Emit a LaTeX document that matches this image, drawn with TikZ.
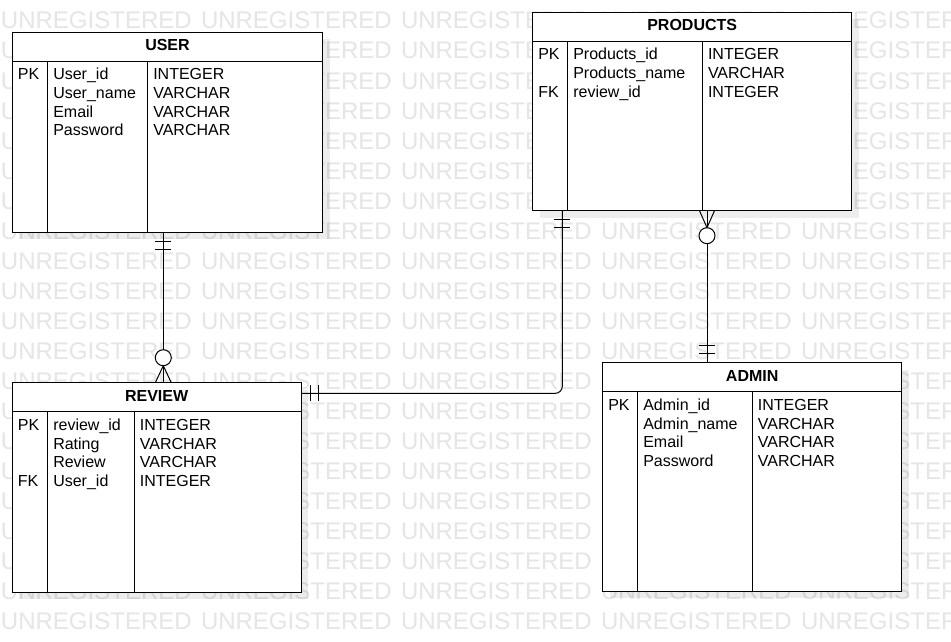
\documentclass[tikz,border=0pt]{standalone}
\usepackage{fontspec}
\setmainfont{Liberation Sans}
\usetikzlibrary{calc}

% entity frame: name, left, top, width, height, first divider, second divider, title
\newcommand\erentity[8]{%
  \fill[shadowbox] (#2+7,#3+7) rectangle (#2+#4+7,#3+#5+7);
  \node[entbox, minimum width=#4pt, minimum height=#5pt] (#1) at (#2,#3) {};
  \draw[erline] ([yshift=-29pt]#1.north west) -- ([yshift=-29pt]#1.north east);
  \draw[erline] ([shift={(#6,29)}]#1.north west) -- ([xshift=#6pt]#1.south west);
  \draw[erline] ([shift={(#7,29)}]#1.north west) -- ([xshift=#7pt]#1.south west);
  \node[ttl] (#1-title) at (#2+#4/2,#3+18.3) {#8};
}
% one column of attribute text: prefix, x, first baseline, entries
\newcommand\ercol[4]{%
  \foreach \t [count=\i from 0] in {#4}
    \node[cell] (#1-\i) at (#2,#3+18.6*\i) {\t};
}

\begin{document}
\begin{tikzpicture}[x=1pt,y=-1pt,
  erline/.style={line width=1pt, draw=black},
  entbox/.style={draw=black, line width=1pt, fill=white, inner sep=0pt, outer sep=0pt, anchor=north west},
  shadowbox/.style={fill=black, fill opacity=0.07},
  cell/.style={anchor=base west, inner sep=0pt, outer sep=0pt, font=\fontsize{16pt}{18.6pt}\selectfont},
  ttl/.style={anchor=base, inner sep=0pt, outer sep=0pt, font=\fontsize{16pt}{18.6pt}\selectfont\bfseries},
  wm/.style={anchor=base west, inner sep=0pt, outer sep=0pt, text=black!10, font=\fontsize{24pt}{28pt}\selectfont},
]
\useasboundingbox (0,0) rectangle (951,642);
\fill[white] (0,0) rectangle (951,642);

% background watermark
\begin{scope}
  \clip (0,0) rectangle (951,642);
  \foreach \r in {0,...,20}
    \foreach \c in {0,...,4}
      \node[wm] (wm-\r-\c) at (1+200*\c, 29+30*\r) {UNREGISTERED};
\end{scope}

% USER
\erentity{user}{12.3}{32.3}{310.4}{200}{35.4}{135.4}{USER}
\ercol{user-k}{17.9}{80}{PK}
\ercol{user-n}{53.3}{80}{User\_id,User\_name,Email,Password}
\ercol{user-t}{153.3}{80}{INTEGER,VARCHAR,VARCHAR,VARCHAR}

% PRODUCTS
\erentity{products}{532.7}{12.3}{319}{198.4}{35}{169.6}{PRODUCTS}
\ercol{products-k}{538.3}{60}{PK,,FK}
\ercol{products-n}{573.3}{60}{Products\_id,Products\_name,review\_id}
\ercol{products-t}{708}{60}{INTEGER,VARCHAR,INTEGER}

% REVIEW
\erentity{review}{12.3}{382.7}{288.7}{209.6}{35.4}{122}{REVIEW}
\ercol{review-k}{17.9}{430.4}{PK,,,FK}
\ercol{review-n}{53.3}{430.4}{review\_id,Rating,Review,User\_id}
\ercol{review-t}{139.9}{430.4}{INTEGER,VARCHAR,VARCHAR,INTEGER}

% ADMIN
\erentity{admin}{602.7}{362.7}{299}{228.3}{35}{149.6}{ADMIN}
\ercol{admin-k}{608.3}{410.4}{PK}
\ercol{admin-n}{643.3}{410.4}{Admin\_id,Admin\_name,Email,Password}
\ercol{admin-t}{757.9}{410.4}{INTEGER,VARCHAR,VARCHAR,VARCHAR}

% connector guides
\coordinate (x1) at (163.3,0);
\coordinate (y2) at (0,393.3);
\coordinate (x2) at (562.3,0);
\coordinate (x3) at (707,0);

% USER (one) -- REVIEW (zero or many)
\coordinate (u1) at (user.south -| x1);
\coordinate (r1) at (review.north -| x1);
\draw[erline] (u1) -- (r1);
\draw[erline] ([shift={(-8,9)}]u1) -- ++(16,0) ([shift={(-8,17)}]u1) -- ++(16,0);
\draw[erline] ([shift={(-8,0)}]r1) -- ([shift={(0,-17)}]r1) -- ([shift={(8,0)}]r1);
\draw[erline, fill=white] ([shift={(0,-25)}]r1) circle[radius=8pt];

% REVIEW (one) -- PRODUCTS (one)
\coordinate (r2) at (review.east |- y2);
\coordinate (p2) at (products.south -| x2);
\draw[erline, rounded corners=7pt] (r2) -| (p2);
\draw[erline] ([shift={(9,-8)}]r2) -- ++(0,16) ([shift={(17,-8)}]r2) -- ++(0,16);
\draw[erline] ([shift={(-8,9)}]p2) -- ++(16,0) ([shift={(-8,17)}]p2) -- ++(16,0);

% PRODUCTS (zero or many) -- ADMIN (one)
\coordinate (p3) at (products.south -| x3);
\coordinate (a3) at (admin.north -| x3);
\draw[erline] (p3) -- (a3);
\draw[erline] ([shift={(-7.5,0)}]p3) -- ([shift={(0,17)}]p3) -- ([shift={(7.5,0)}]p3);
\draw[erline, fill=white] ([shift={(0,25)}]p3) circle[radius=8pt];
\draw[erline] ([shift={(-8,-9)}]a3) -- ++(16,0) ([shift={(-8,-17)}]a3) -- ++(16,0);
\end{tikzpicture}
\end{document}
